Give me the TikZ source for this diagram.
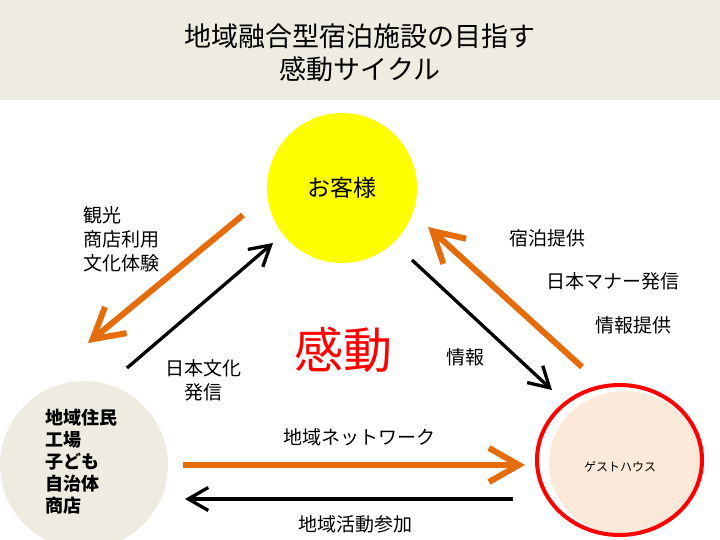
\documentclass[tikz,border=0pt]{standalone}
\usepackage{fontspec}
\setmainfont{Noto Sans CJK JP}
\usetikzlibrary{arrows.meta,shapes.geometric}
\definecolor{band}{HTML}{EEECE1}
\definecolor{org}{HTML}{E46C0A}
\definecolor{peach}{HTML}{FDE9D9}
\definecolor{sun}{HTML}{FFFF00}
\begin{document}
\begin{tikzpicture}[x=1pt,y=-1pt,
  txt/.style={font=\fontsize{19}{24}\selectfont, inner sep=0pt, align=center},
  oarrow/.style={draw=org, line width=6pt, -{Straight Barb[length=30pt,width=34pt]}},
  barrow/.style={draw=black, line width=3.3pt, -{Straight Barb[length=20pt,width=23pt]}}]
\useasboundingbox (0,0) rectangle (720,540);
\fill[band] (0,0) rectangle (720,100);
\node[font=\fontsize{27}{33}\selectfont, align=center] (title) at (360,53) {地域融合型宿泊施設の目指す\\感動サイクル};

\node[circle, fill=sun, minimum size=150pt, inner sep=0pt, font=\fontsize{23}{26}\selectfont] (guest) at (342,188) {お客様};

\node[circle, fill=band, minimum size=168pt, inner sep=0pt] (local) at (84,465) {};
\node[font=\bfseries\fontsize{18}{22}\selectfont, align=left, anchor=west, inner sep=0pt] (localtxt) at (45,462) {地域住民\\工場\\子ども\\自治体\\商店};

\fill[peach] (625,463) ellipse [x radius=76, y radius=72];
\node[ellipse, draw=red, line width=4pt, minimum width=165pt, minimum height=150pt, inner sep=0pt, outer sep=0pt] (gh) at (619.5,460) {};
\node[font=\fontsize{12}{14}\selectfont, inner sep=0pt] (ghtxt) at (620,467) {ゲストハウス};

\node[text=red, font=\fontsize{49}{52}\selectfont, inner sep=0pt] (kando) at (343,350) {感動};

% arrow end points
\coordinate (a1s) at (243,215); \coordinate (a1e) at (88,343);
\coordinate (a2s) at (127,368); \coordinate (a2e) at (273,243);
\coordinate (a3s) at (582,367); \coordinate (a3e) at (428,227);
\coordinate (a4s) at (412,260); \coordinate (a4e) at (552,390);
\coordinate (a5s) at (183,465); \coordinate (a5e) at (525,465);
\coordinate (a6s) at (513,499); \coordinate (a6e) at (185,499);

\draw[oarrow] (a1s) -- (a1e);
\draw[barrow] (a2s) -- (a2e);
\draw[oarrow] (a3s) -- (a3e);
\draw[barrow] (a4s) -- (a4e);
\draw[oarrow] (a5s) -- (a5e);
\draw[barrow] (a6s) -- (a6e);

\node[txt, align=left, anchor=west] (l1) at (83,239) {観光\\商店利用\\文化体験};
\node[txt] (l2) at (203,380) {日本文化\\発信};
\node[txt] (l3) at (465,357) {情報};
\node[txt] (l4) at (547,238) {宿泊提供};
\node[txt] (l5) at (613,281) {日本マナー発信};
\node[txt] (l6) at (633,325) {情報提供};
\node[txt] (l7) at (359,437) {地域ネットワーク};
\node[txt] (l8) at (355,524) {地域活動参加};
\end{tikzpicture}
\end{document}
